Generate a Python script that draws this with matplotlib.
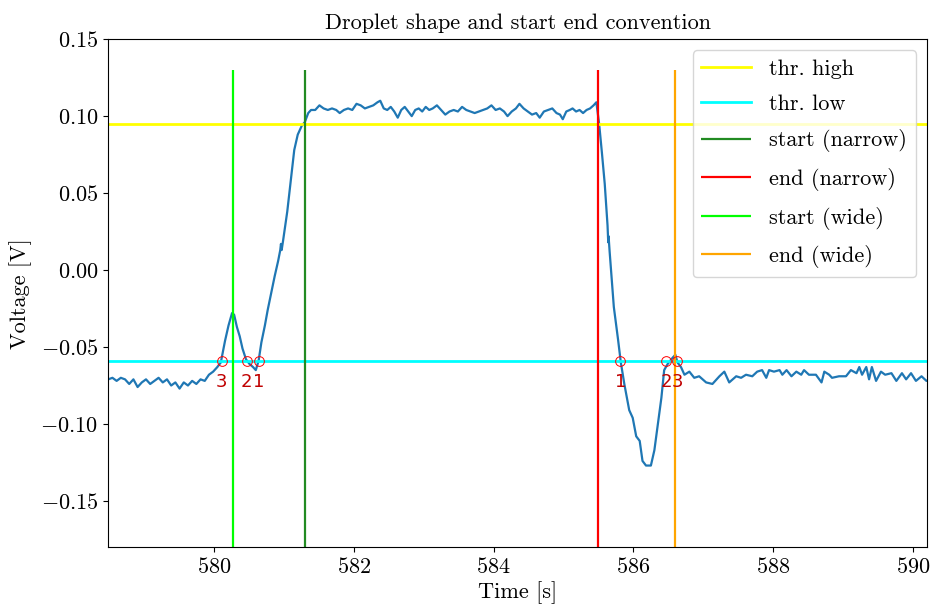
import matplotlib
matplotlib.use("Agg")
import matplotlib.pyplot as plt
from matplotlib.ticker import FuncFormatter

plt.rcParams['font.family'] = 'serif'
plt.rcParams['font.serif'] = ['cmr10']
plt.rcParams['mathtext.fontset'] = 'cm'
plt.rcParams['axes.formatter.use_mathtext'] = True
plt.rcParams['font.size'] = 16

# droplet signal
time_s = [
    578.49, 578.55, 578.61, 578.67, 578.73, 578.79, 578.85, 578.91, 578.97, 579.03,
    579.09, 579.15, 579.21, 579.27, 579.33, 579.39, 579.45, 579.51, 579.57, 579.63,
    579.69, 579.75, 579.81, 579.87, 579.93, 579.99, 580.05, 580.10, 580.16, 580.21,
    580.26, 580.29, 580.33, 580.37, 580.41, 580.46, 580.51, 580.56, 580.60, 580.64,
    580.68, 580.73, 580.77, 580.82, 580.87, 580.92, 580.95, 580.96, 580.97, 580.99,
    581.05, 581.10, 581.15, 581.20, 581.26, 581.30, 581.35, 581.39,
    # plateau
    581.45, 581.51, 581.57, 581.63, 581.69, 581.75, 581.80, 581.86, 581.92, 581.98,
    582.04, 582.10, 582.16, 582.22, 582.28, 582.34, 582.38, 582.43, 582.48, 582.53,
    582.58, 582.63, 582.68, 582.73, 582.78, 582.83, 582.88, 582.93, 582.98, 583.03,
    583.08, 583.13, 583.19, 583.25, 583.31, 583.37, 583.43, 583.49, 583.55, 583.61,
    583.67, 583.73, 583.79, 583.85, 583.91, 583.97, 584.03, 584.09, 584.15, 584.20,
    584.26, 584.32, 584.37, 584.43, 584.49, 584.55, 584.61, 584.66, 584.72, 584.78,
    584.84, 584.90, 584.95, 584.99, 585.04, 585.09, 585.13, 585.18, 585.23, 585.28,
    585.33, 585.38, 585.43, 585.47,
    # fall and dip
    585.51, 585.55, 585.59, 585.63, 585.64, 585.645, 585.66, 585.72, 585.78, 585.82,
    585.87, 585.94, 585.99, 586.04, 586.09, 586.13, 586.18, 586.25, 586.30, 586.35,
    586.40, 586.44, 586.49, 586.56, 586.60, 586.63, 586.68,
    # baseline after
    586.73, 586.80, 586.87, 586.94, 587.04, 587.13, 587.23, 587.30, 587.37, 587.47,
    587.54, 587.61, 587.70, 587.77, 587.84, 587.90, 587.94, 588.01, 588.09, 588.13,
    588.19, 588.26, 588.33, 588.40, 588.44, 588.51, 588.61, 588.69, 588.73, 588.80,
    588.84, 588.94, 589.04, 589.11, 589.19, 589.23, 589.27, 589.33, 589.37, 589.41,
    589.47, 589.54, 589.60, 589.69, 589.76, 589.84, 589.90, 589.97, 590.04, 590.12,
    590.19, 590.25,
]
voltage = [
    -0.071, -0.070, -0.072, -0.070, -0.071, -0.074, -0.071, -0.076, -0.073, -0.071,
    -0.074, -0.072, -0.070, -0.073, -0.071, -0.075, -0.073, -0.077, -0.073, -0.075,
    -0.072, -0.074, -0.071, -0.072, -0.068, -0.066, -0.063, -0.060, -0.046, -0.036,
    -0.028, -0.029, -0.037, -0.043, -0.051, -0.058, -0.061, -0.063, -0.065, -0.059,
    -0.047, -0.036, -0.026, -0.015, -0.004, 0.006, 0.013, 0.017, 0.013, 0.019,
    0.038, 0.058, 0.078, 0.088, 0.094, 0.096, 0.102, 0.104,
    0.104, 0.107, 0.105, 0.104, 0.105, 0.104, 0.102, 0.104, 0.105, 0.104,
    0.108, 0.107, 0.105, 0.106, 0.107, 0.109, 0.110, 0.105, 0.104, 0.106,
    0.103, 0.099, 0.104, 0.106, 0.103, 0.100, 0.104, 0.105, 0.103, 0.106,
    0.104, 0.105, 0.107, 0.104, 0.101, 0.103, 0.104, 0.103, 0.106, 0.104,
    0.103, 0.102, 0.103, 0.104, 0.105, 0.107, 0.104, 0.105, 0.103, 0.100,
    0.103, 0.105, 0.108, 0.105, 0.103, 0.101, 0.102, 0.099, 0.103, 0.104,
    0.105, 0.102, 0.101, 0.098, 0.103, 0.104, 0.105, 0.103, 0.104, 0.102,
    0.104, 0.105, 0.107, 0.109,
    0.095, 0.076, 0.056, 0.029, 0.018, 0.022, 0.012, -0.024, -0.045, -0.060,
    -0.074, -0.091, -0.096, -0.108, -0.111, -0.124, -0.127, -0.127, -0.117, -0.100,
    -0.083, -0.065, -0.061, -0.057, -0.055, -0.060, -0.063,
    -0.068, -0.066, -0.070, -0.069, -0.073, -0.074, -0.069, -0.066, -0.073, -0.069,
    -0.070, -0.068, -0.069, -0.066, -0.065, -0.070, -0.065, -0.066, -0.065, -0.068,
    -0.065, -0.069, -0.066, -0.068, -0.065, -0.068, -0.068, -0.073, -0.066, -0.068,
    -0.070, -0.069, -0.069, -0.065, -0.067, -0.063, -0.068, -0.063, -0.071, -0.063,
    -0.072, -0.066, -0.068, -0.067, -0.072, -0.067, -0.071, -0.067, -0.072, -0.069,
    -0.072, -0.071,
]

thr_high = 0.095
thr_low = -0.059

start_narrow = 581.30
end_narrow = 585.49
start_wide = 580.27
end_wide = 586.59

# threshold crossings with their labels
cross_t = [580.115, 580.471, 580.643, 585.815, 586.471, 586.629]
cross_lbl = ['3', '2', '1', '1', '2', '3']

fig = plt.figure(figsize=(9.47, 6.12), dpi=100)
ax = fig.add_axes([0.114, 0.106, 0.865, 0.830])

ax.plot(time_s, voltage, color='tab:blue', lw=1.6)
ax.axhline(thr_high, color='yellow', lw=2, label='thr. high')
ax.axhline(thr_low, color='cyan', lw=2, label='thr. low')
ax.vlines(start_narrow, -0.2, 0.13, color='forestgreen', lw=1.6, label='start (narrow)')
ax.vlines(end_narrow, -0.2, 0.13, color='red', lw=1.6, label='end (narrow)')
ax.vlines(start_wide, -0.2, 0.13, color='lime', lw=1.6, label='start (wide)')
ax.vlines(end_wide, -0.2, 0.13, color='orange', lw=1.6, label='end (wide)')

ax.plot(cross_t, [thr_low] * len(cross_t), 'o', ms=7, mfc='none', mec='red', mew=0.7)
for t, lbl in zip(cross_t, cross_lbl):
    ax.text(t, thr_low - 0.0135, lbl, color='#c00000', family='DejaVu Sans',
            fontsize=13, ha='center', va='center')

ax.set_xlim(578.486, 590.2)
ax.set_ylim(-0.18, 0.15)
ax.set_xticks([580, 582, 584, 586, 588, 590])
ax.set_yticks([-0.15, -0.10, -0.05, 0.00, 0.05, 0.10, 0.15])
ax.yaxis.set_major_formatter(FuncFormatter(
    lambda v, p: r'$\mathdefault{%s}$' % ('%.2f' % v).replace('-', '\u2212')))
ax.xaxis.set_major_formatter(FuncFormatter(lambda v, p: r'$\mathdefault{%d}$' % v))

ax.set_title('Droplet shape and start end convention', fontsize=16, pad=7)
ax.set_xlabel('Time [s]', labelpad=3)
ax.set_ylabel('Voltage [V]', labelpad=6)
ax.legend(loc='upper right', fontsize=16, labelspacing=0.7, handlelength=2.25)

fig.savefig('out.png', dpi=100)
